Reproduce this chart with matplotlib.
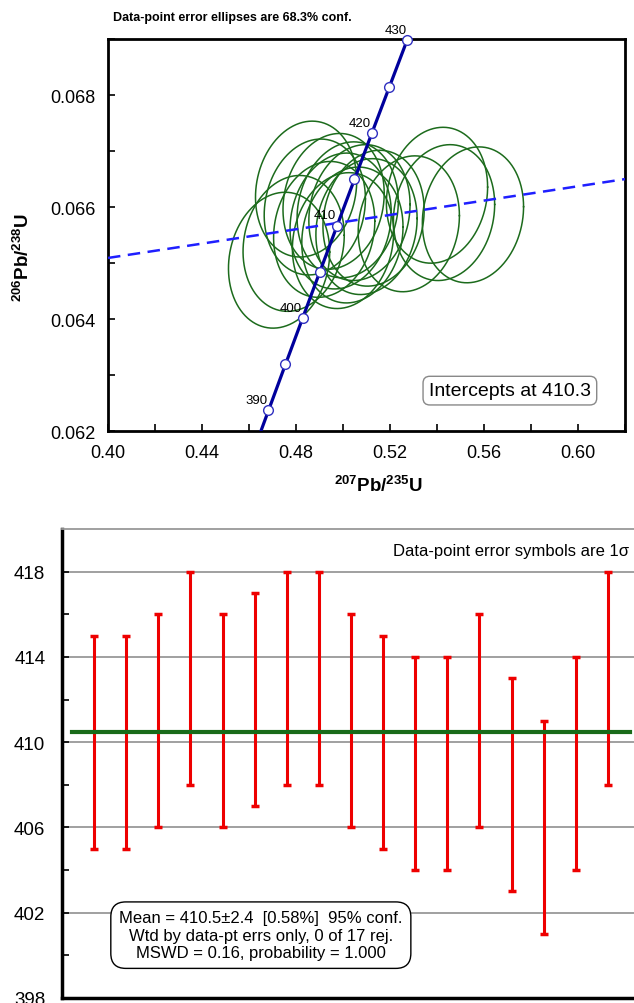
import numpy as np
import matplotlib
matplotlib.use("Agg")
import matplotlib.pyplot as plt
from matplotlib.ticker import MultipleLocator, FormatStrFormatter

plt.rcParams['font.family'] = ['Liberation Sans', 'DejaVu Sans']
plt.rcParams['mathtext.fontset'] = 'custom'
plt.rcParams['mathtext.rm'] = 'Liberation Sans'
plt.rcParams['mathtext.bf'] = 'Liberation Sans:bold'

# --- concordia data (ellipse centres, 1-sigma errors, error correlation) ---
pb207_u235 = [0.4728, 0.4790, 0.4843, 0.4880, 0.4920, 0.4960, 0.4990, 0.5020, 0.5040,
              0.5070, 0.5100, 0.5130, 0.5000, 0.5280, 0.5400, 0.5430, 0.5553]
pb206_u238 = [0.06505, 0.06535, 0.06632, 0.06600, 0.06560, 0.06610, 0.06575, 0.06595, 0.06550,
              0.06590, 0.06565, 0.06580, 0.06540, 0.06570, 0.06621, 0.06590, 0.06586]
sig_207_235 = [0.0142] * 17
sig_206_238 = [0.00080] * 17
err_corr = [0.12] * 17

# concordia age marks and discordia
concordia_ages = [390, 395, 400, 405, 410, 415, 420, 425, 430]
labelled_ages = [390, 400, 410, 420, 430]
intercept_age = 410.3
discordia_slope = 0.0064

# --- weighted mean data ---
spot_ages = [410, 410, 411, 413, 411, 412, 413, 413, 411, 410, 409, 409, 411, 408, 406, 409, 413]
spot_errs = [5] * 17
mean_age = 410.5

L238 = 1.55125e-10
L235 = 9.8485e-10


def concordia(age_ma):
    t = np.asarray(age_ma) * 1e6
    return np.exp(L235 * t) - 1, np.exp(L238 * t) - 1


fig = plt.figure(figsize=(6.34, 10.04), dpi=100)

# ---------------- top: concordia plot ----------------
ax1 = fig.add_axes([108 / 634, 1 - 432 / 1004, 517 / 634, 392 / 1004])
ax1.set_xlim(0.40, 0.62)
ax1.set_ylim(0.062, 0.069)

k = np.sqrt(2.30)  # 68.3% conf for 2 dof
th = np.linspace(0, 2 * np.pi, 200)
for cx, cy, sx, sy, r in zip(pb207_u235, pb206_u238, sig_207_235, sig_206_238, err_corr):
    ex = cx + k * sx * np.cos(th)
    ey = cy + k * sy * (r * np.cos(th) + np.sqrt(1 - r ** 2) * np.sin(th))
    ax1.plot(ex, ey, color='#1c6b1c', lw=1.1, zorder=2)

# discordia through lower intercept
ix, iy = concordia(intercept_age)
ax1.axline((float(ix), float(iy)), slope=discordia_slope, color='#1f1fff',
           lw=1.8, ls=(0, (5, 3)), zorder=3)

# concordia curve
ages = np.linspace(385, 430, 200)
cxs, cys = concordia(ages)
ax1.plot(cxs, cys, color='#00009c', lw=2.3, zorder=4)
mx, my = concordia(concordia_ages)
ax1.plot(mx, my, 'o', ms=7, mfc='white', mec='#3030c0', mew=1.0, zorder=5, clip_on=False)
for a in labelled_ages:
    lx, ly = concordia(a)
    ax1.annotate(str(a), (lx, ly), xytext=(-8.5, 7.5), textcoords='offset points',
                 ha='center', va='center', fontsize=9.5, annotation_clip=False)

ax1.xaxis.set_major_locator(MultipleLocator(0.04))
ax1.xaxis.set_minor_locator(MultipleLocator(0.02))
ax1.yaxis.set_major_locator(MultipleLocator(0.002))
ax1.yaxis.set_minor_locator(MultipleLocator(0.001))
ax1.xaxis.set_major_formatter(FormatStrFormatter('%.2f'))
ax1.yaxis.set_major_formatter(FormatStrFormatter('%.3f'))
ax1.tick_params(which='both', direction='in', labelsize=13, width=1.2, length=5)
ax1.tick_params(axis='x', which='major', pad=9)
ax1.tick_params(axis='y', which='major', pad=9)
for s in ax1.spines.values():
    s.set_linewidth(2)

ax1.set_xlabel(r'$\mathbf{{}^{207}Pb/{}^{235}U}$', fontsize=13.5)
ax1.xaxis.set_label_coords((378 - 108) / 517, (432 - 486) / 392)
ax1.set_ylabel(r'$\mathbf{{}^{206}Pb/{}^{238}U}$', fontsize=13.5)
ax1.yaxis.set_label_coords((23 - 108) / 517, (432 - 258) / 392)
ax1.xaxis.label.set_va('center')
ax1.yaxis.label.set_va('center')

ax1.text(0.01, 1.055, 'Data-point error ellipses are 68.3% conf.', transform=ax1.transAxes,
         fontsize=9, fontweight='bold', ha='left', va='center')
ax1.text(0.934, 0.103, 'Intercepts at 410.3', transform=ax1.transAxes, fontsize=14,
         ha='right', va='center',
         bbox=dict(boxstyle='round,pad=0.3,rounding_size=0.35', fc='white', ec='#888888', lw=1))

# ---------------- bottom: weighted mean ----------------
ax2 = fig.add_axes([62 / 634, 5 / 1004, 578 / 634, 469 / 1004])
ax2.set_xlim(0, 18)
ax2.set_ylim(398, 420)
pos = np.arange(1, len(spot_ages) + 1)
ax2.set_yticks(np.arange(398, 419, 4))
ax2.set_yticks(np.arange(400, 420, 4), minor=True)
ax2.grid(axis='y', which='major', color='#999999', lw=1.3, zorder=0)
ax2.errorbar(pos, spot_ages, yerr=spot_errs, fmt='none', ecolor='#ee0000',
             elinewidth=2.2, capsize=3, capthick=2.5, zorder=3)
ax2.plot([0.3, 17.7], [mean_age, mean_age], color='#1a6b1a', lw=3, zorder=4)

ax2.set_xticks([])
ax2.tick_params(axis='y', which='both', direction='in', labelsize=13.5, length=5, width=1.2, pad=12)
ax2.spines['left'].set_linewidth(2.5)
ax2.spines['bottom'].set_linewidth(2.5)
ax2.spines['top'].set_color('#999999')
ax2.spines['top'].set_linewidth(1.3)
ax2.spines['right'].set_visible(False)

ax2.text(0.982, 0.955, 'Data-point error symbols are 1σ', transform=ax2.transAxes,
         fontsize=12, ha='right', va='center')
ax2.text(0.344, 0.134, 'Mean = 410.5±2.4  [0.58%]  95% conf.\n'
         'Wtd by data-pt errs only, 0 of 17 rej.\n'
         'MSWD = 0.16, probability = 1.000',
         transform=ax2.transAxes, fontsize=12, ha='center', va='center',
         linespacing=1.2, zorder=6,
         bbox=dict(boxstyle='round,pad=0.5,rounding_size=0.9', fc='white', ec='black', lw=1))

fig.savefig('out.png', dpi=100)
